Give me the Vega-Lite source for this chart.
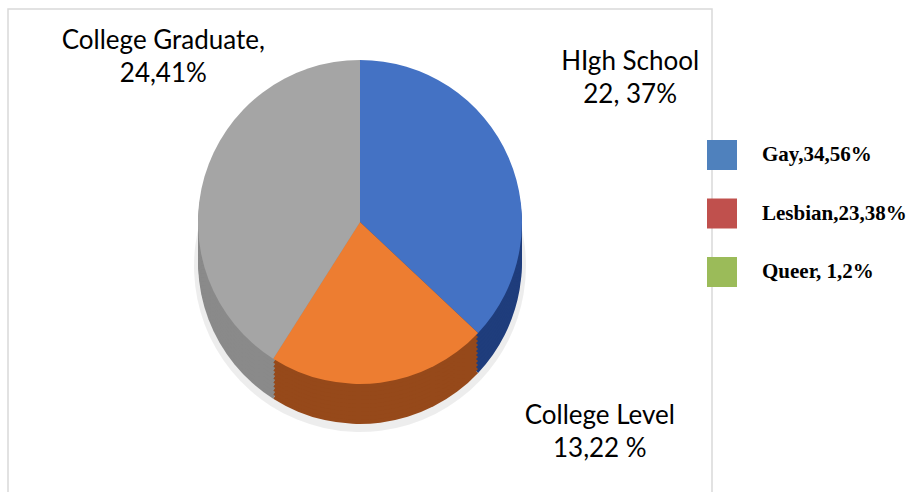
{
  "$schema": "https://vega.github.io/schema/vega-lite/v6.json",
  "width": 704,
  "height": 490,
  "padding": {"left": 8, "top": 9, "right": 197, "bottom": 0},
  "autosize": {"type": "none"},
  "background": "white",
  "config": {
    "view": {"stroke": null}
  },
  "datasets": {
    "edu": [
      {"level": "High School", "pct": 37, "rank": 1, "label": "HIgh School\n22, 37%"},
      {"level": "College Level", "pct": 22, "rank": 2, "label": "College Level\n13,22 %"},
      {"level": "College Graduate", "pct": 41, "rank": 3, "label": "College Graduate,\n24,41%"}
    ],
    "orient": [
      {"group": "Gay,34,56%"},
      {"group": "Lesbian,23,38%"},
      {"group": "Queer, 1,2%"}
    ],
    "frame": [{"name": "frame"}]
  },
  "layer": [
    {
      "data": {"name": "frame"},
      "mark": {"type": "rect", "fill": null, "stroke": "#d9d9d9", "strokeWidth": 1.5},
      "encoding": {"x": {"value": 0}, "x2": {"value": "width"}, "y": {"value": 0}, "y2": {"value": "height"}}
    },
    {
      "data": {"name": "edu"},
      "encoding": {
        "theta": {"field": "pct", "type": "quantitative", "stack": true},
        "order": {"field": "rank", "type": "quantitative"}
      },
      "layer": [
        {"mark": {"type": "arc", "radius": 166, "yOffset": 12, "fill": "#000000", "opacity": 0.07}, "encoding": {}},
        {"mark": {"type": "arc", "radius": 162, "yOffset": 8}, "encoding": {"fill": {"field": "level", "type": "nominal", "scale": {"domain": ["High School", "College Level", "College Graduate"], "range": ["#1F3D7C", "#96491A", "#8A8A8A"]}, "legend": null}}},
        {"mark": {"type": "arc", "radius": 162, "yOffset": 4}, "encoding": {"fill": {"field": "level", "type": "nominal", "legend": null}}},
        {"mark": {"type": "arc", "radius": 162, "yOffset": 0}, "encoding": {"fill": {"field": "level", "type": "nominal", "legend": null}}},
        {"mark": {"type": "arc", "radius": 162, "yOffset": -4}, "encoding": {"fill": {"field": "level", "type": "nominal", "legend": null}}},
        {"mark": {"type": "arc", "radius": 162, "yOffset": -8}, "encoding": {"fill": {"field": "level", "type": "nominal", "legend": null}}},
        {"mark": {"type": "arc", "radius": 162, "yOffset": -12}, "encoding": {"fill": {"field": "level", "type": "nominal", "legend": null}}},
        {"mark": {"type": "arc", "radius": 162, "yOffset": -16}, "encoding": {"fill": {"field": "level", "type": "nominal", "legend": null}}},
        {"mark": {"type": "arc", "radius": 162, "yOffset": -20}, "encoding": {"fill": {"field": "level", "type": "nominal", "legend": null}}},
        {"mark": {"type": "arc", "radius": 162, "yOffset": -24}, "encoding": {"fill": {"field": "level", "type": "nominal", "legend": null}}},
        {"mark": {"type": "arc", "radius": 162, "yOffset": -28}, "encoding": {"fill": {"field": "level", "type": "nominal", "legend": null}}},
        {"mark": {"type": "arc", "radius": 162, "yOffset": -32}, "encoding": {"color": {"field": "level", "type": "nominal", "scale": {"domain": ["High School", "College Level", "College Graduate"], "range": ["#4472C4", "#ED7D31", "#A5A5A5"]}, "legend": null}}},
        {
          "mark": {"type": "text", "radius": 290, "yOffset": -32, "dx": 4, "dy": -45, "align": "center", "baseline": "middle", "lineBreak": "\n", "lineHeight": 33, "font": "Lato", "fontSize": 26, "fill": "#000000"},
          "encoding": {"text": {"condition": {"test": "datum.level === 'High School'", "field": "label"}, "value": ""}}
        },
        {
          "mark": {"type": "text", "radius": 230, "yOffset": -32, "dx": 211, "dy": -34, "align": "center", "baseline": "middle", "lineBreak": "\n", "lineHeight": 33, "font": "Lato", "fontSize": 26, "fill": "#000000"},
          "encoding": {"text": {"condition": {"test": "datum.level === 'College Level'", "field": "label"}, "value": ""}}
        },
        {
          "mark": {"type": "text", "radius": 210, "yOffset": -32, "dx": 5, "dy": -122, "align": "center", "baseline": "middle", "lineBreak": "\n", "lineHeight": 33, "font": "Lato", "fontSize": 26, "fill": "#000000"},
          "encoding": {"text": {"condition": {"test": "datum.level === 'College Graduate'", "field": "label"}, "value": ""}}
        }
      ]
    },
    {
      "data": {"name": "orient"},
      "mark": {"type": "point", "filled": true, "opacity": 0},
      "encoding": {
        "color": {
          "field": "group",
          "type": "nominal",
          "scale": {"domain": ["Gay,34,56%", "Lesbian,23,38%", "Queer, 1,2%"], "range": ["#4F81BD", "#C0504D", "#9BBB59"]},
          "legend": {
            "title": null,
            "orient": "none",
            "legendX": 699,
            "legendY": 131,
            "padding": 0,
            "symbolType": "square",
            "symbolSize": 900,
            "symbolStrokeWidth": 0,
            "symbolOpacity": 1,
            "labelFont": "Liberation Serif",
            "labelFontWeight": "bold",
            "labelFontSize": 21,
            "labelColor": "#000000",
            "labelOffset": 25,
            "rowPadding": 28.5,
            "labelLimit": 300
          }
        }
      }
    }
  ],
  "resolve": {"scale": {"color": "independent"}}
}
